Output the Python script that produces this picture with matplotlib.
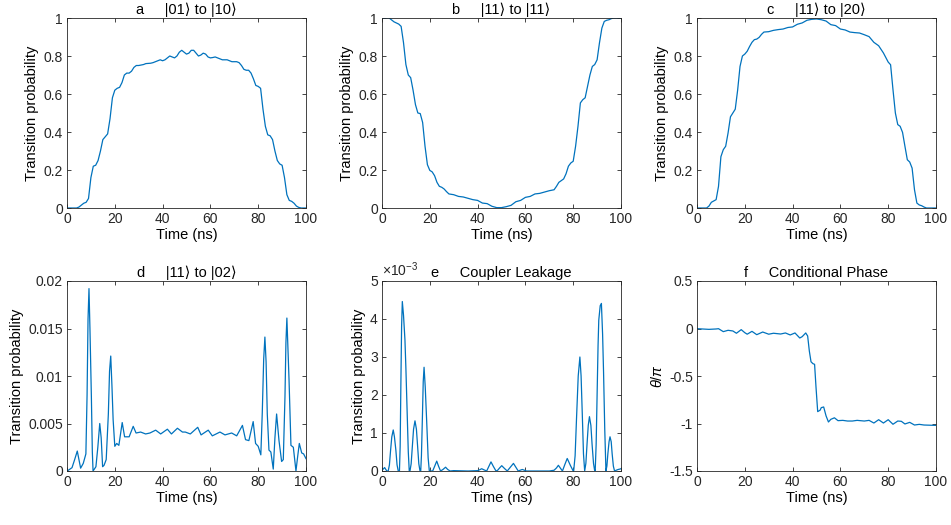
import matplotlib

matplotlib.use("Agg")
import matplotlib.pyplot as plt
from matplotlib.ticker import FuncFormatter

plt.rcParams["font.family"] = ["Liberation Sans", "DejaVu Sans"]
plt.rcParams["axes.unicode_minus"] = False
plt.rcParams["mathtext.fontset"] = "custom"
plt.rcParams["mathtext.it"] = "Liberation Sans:italic"
plt.rcParams["mathtext.rm"] = "Liberation Sans"

# ---- a |01> to |10> ----
t_a = [0, 4, 5, 6, 7, 8, 9, 10, 11, 12, 13, 14, 15, 16, 17, 18, 19, 20, 21, 22, 23, 24, 25, 26, 27, 28, 29, 30,
       32, 33, 35, 36, 38, 39, 40, 41, 42, 43, 44, 45, 46, 47, 48, 49, 50, 51, 52, 53, 54, 55, 56, 57, 58, 59, 60,
       61, 62, 63, 64, 65, 67, 68, 69, 70, 71, 72, 73, 74, 75, 76, 77, 78, 79, 80, 81, 82, 83, 84, 85, 86, 87, 88,
       89, 90, 91, 92, 93, 94, 95, 96, 97, 98, 100]
p_a = [0, 0, 0.005, 0.015, 0.025, 0.03, 0.05, 0.16, 0.22, 0.225, 0.25, 0.3, 0.36, 0.375, 0.39, 0.47, 0.58, 0.62,
       0.63, 0.635, 0.66, 0.7, 0.71, 0.71, 0.72, 0.74, 0.75, 0.75, 0.755, 0.76, 0.762, 0.765, 0.775, 0.78, 0.775,
       0.78, 0.79, 0.8, 0.795, 0.79, 0.8, 0.82, 0.83, 0.82, 0.81, 0.815, 0.83, 0.83, 0.815, 0.8, 0.805, 0.815, 0.81,
       0.795, 0.79, 0.792, 0.795, 0.79, 0.785, 0.78, 0.78, 0.775, 0.77, 0.77, 0.77, 0.765, 0.75, 0.73, 0.725, 0.725,
       0.71, 0.68, 0.645, 0.64, 0.63, 0.52, 0.43, 0.385, 0.38, 0.36, 0.3, 0.25, 0.232, 0.225, 0.16, 0.07, 0.04,
       0.035, 0.025, 0.01, 0.003, 0, 0]

# ---- b |11> to |11> ----
t_b = [0, 3, 5, 7, 8, 9, 10, 11, 12, 13, 14, 15, 16, 17, 18, 19, 20, 21, 22, 23, 24, 25, 26, 27, 28, 30, 32, 34,
       36, 38, 40, 42, 44, 46, 48, 50, 52, 54, 56, 58, 60, 62, 64, 66, 68, 70, 72, 73, 74, 75, 76, 77, 78, 79, 80,
       81, 82, 83, 84, 85, 86, 87, 88, 89, 90, 91, 92, 93, 94, 95, 96, 97, 100]
p_b = [1.0, 1.0, 0.98, 0.968, 0.956, 0.87, 0.755, 0.70, 0.686, 0.62, 0.544, 0.50, 0.497, 0.45, 0.325, 0.228,
       0.198, 0.19, 0.17, 0.135, 0.114, 0.109, 0.10, 0.086, 0.074, 0.07, 0.061, 0.058, 0.051, 0.044, 0.04, 0.026,
       0.023, 0.009, 0.002, 0.002, 0.007, 0.014, 0.033, 0.04, 0.056, 0.061, 0.074, 0.077, 0.084, 0.091, 0.096,
       0.114, 0.135, 0.144, 0.153, 0.18, 0.22, 0.237, 0.246, 0.325, 0.43, 0.553, 0.57, 0.58, 0.64, 0.70, 0.745,
       0.755, 0.78, 0.87, 0.947, 0.982, 0.988, 0.991, 0.997, 1.0, 1.0]

# ---- c |11> to |20> ----
t_c = [0, 4, 5, 6, 7, 8, 9, 10, 11, 12, 13, 14, 15, 16, 17, 18, 19, 20, 21, 22, 23, 24, 25, 26, 27, 28, 30, 32,
       34, 36, 38, 40, 42, 44, 46, 48, 50, 52, 54, 56, 58, 60, 62, 64, 66, 68, 70, 72, 74, 76, 78, 80, 81, 82, 83,
       84, 85, 86, 87, 88, 89, 90, 91, 92, 93, 94, 95, 96, 100]
p_c = [0, 0, 0.01, 0.03, 0.037, 0.044, 0.114, 0.27, 0.307, 0.325, 0.395, 0.48, 0.50, 0.52, 0.62, 0.745, 0.80,
       0.81, 0.825, 0.85, 0.872, 0.886, 0.889, 0.898, 0.914, 0.926, 0.928, 0.935, 0.939, 0.942, 0.95, 0.953, 0.967,
       0.974, 0.988, 0.993, 0.995, 0.991, 0.984, 0.965, 0.96, 0.942, 0.937, 0.926, 0.923, 0.921, 0.912, 0.902,
       0.872, 0.854, 0.816, 0.768, 0.754, 0.623, 0.50, 0.439, 0.43, 0.398, 0.325, 0.254, 0.242, 0.21, 0.096, 0.026,
       0.016, 0.012, 0.005, 0, 0]

# ---- d |11> to |02> ----
t_d = [0, 0.1, 2.1, 3.2, 4.3, 5.0, 5.7, 6.8, 7.9, 8.4, 8.8, 9.2, 9.6, 10.2, 10.6, 10.9, 12.1, 12.9, 13.7, 14.3,
       14.9, 15.5, 16.4, 17.3, 17.8, 18.3, 18.8, 19.3, 20.0, 20.8, 21.7, 23.1, 24.1, 24.9, 26.0, 27.7, 28.9, 30.8,
       32.9, 34.7, 37.1, 39.2, 42.0, 43.7, 46.2, 48.3, 49.5, 51.6, 54.7, 56.1, 59.1, 60.8, 64.0, 66.1, 68.9, 71.0,
       73.4, 74.7, 76.1, 77.9, 78.9, 80.0, 81.1, 81.7, 82.3, 82.8, 83.3, 83.8, 84.5, 85.3, 86.3, 87.0, 87.7, 88.7,
       89.8, 90.5, 91.2, 91.6, 92.0, 92.5, 92.9, 93.7, 94.7, 95.8, 96.5, 97.2, 98.2, 99.0, 100]
p_d = [0, 0, 0.00035, 0.0012, 0.0021, 0.0012, 0.0003, 0.0008, 0.0018, 0.008, 0.016, 0.0192, 0.015, 0.0078, 0.002,
       0, 0.00045, 0.0025, 0.005, 0.0035, 0.00045, 0.0006, 0.0012, 0.006, 0.0105, 0.0121, 0.009, 0.0054, 0.0026,
       0.0029, 0.0027, 0.0051, 0.0036, 0.0036, 0.0036, 0.0047, 0.004, 0.0041, 0.0039, 0.004, 0.0043, 0.0039,
       0.0044, 0.0039, 0.0045, 0.0041, 0.0041, 0.0039, 0.0046, 0.0038, 0.0043, 0.0037, 0.0041, 0.0038, 0.004,
       0.0037, 0.0048, 0.0033, 0.0032, 0.0052, 0.0029, 0.0026, 0.0017, 0.0061, 0.0118, 0.0141, 0.0115, 0.006,
       0.0022, 0.002, 0.0002, 0.0035, 0.006, 0.0032, 0.001, 0.0012, 0.0078, 0.0135, 0.0161, 0.0125, 0.0096,
       0.0027, 0.0025, 0, 0.0015, 0.0029, 0.0019, 0.0018, 0.0013]

# ---- e coupler leakage (x 1e-3) ----
t_e = [0, 1.1, 2.0, 2.6, 3.1, 3.6, 4.1, 4.7, 5.2, 5.8, 6.3, 6.8, 7.3, 7.6, 7.9, 8.2, 8.5, 9.0, 9.6, 10.0, 10.5, 11.0,
       11.4, 11.7, 12.2, 12.7, 13.2, 13.8, 14.4, 14.9, 15.4, 15.9, 16.2, 16.5, 16.9, 17.25, 17.6, 18.1, 18.7, 19.3,
       19.8, 21.2, 22.0, 22.9, 23.7, 24.5, 25.5, 26.6, 27.5, 28.5, 30, 36, 40, 40.8, 41.7, 42.7, 43.8, 44.7, 45.6,
       46.6, 47.7, 48.4, 49.2, 50.1, 51.2, 52.4, 53.7, 55, 56, 57, 57.8, 58.7, 59.6, 60.5, 70, 72, 73, 73.8, 74.7,
       75.5, 76.5, 77.5, 78.8, 80.0, 80.2, 80.8, 81.4, 82.1, 82.8, 83.3, 83.8, 84.3, 84.8, 85.3, 85.8, 86.3, 86.8,
       87.4, 87.9, 88.5, 89.0, 89.2, 89.6, 90.0, 90.4, 90.7, 91.3, 91.8, 92.3, 92.7, 93.2, 93.7, 94.1, 94.5, 95.0,
       95.4, 95.9, 96.3, 96.8, 97.3, 98.0, 98.8, 99.5, 100]
p_e = [0.02, 0.09, 0, 0, 0.16, 0.55, 0.9, 1.08, 0.9, 0.55, 0.16, 0, 0, 0.65, 2.3, 3.8, 4.46, 4.1, 3.45, 2.7, 1.6,
       0.5, 0, 0, 0.19, 0.65, 1.1, 1.32, 1.1, 0.65, 0.19, 0, 0, 0.4, 1.4, 2.35, 2.73, 2.2, 1.3, 0.35, 0, 0, 0.12,
       0.26, 0.12, 0, 0.04, 0.1, 0.04, 0, 0.01, 0, 0.01, 0.03, 0.06, 0.03, 0, 0.12, 0.24, 0.12, 0, 0.02, 0.08, 0.14,
       0.07, 0, 0.1, 0.2, 0.1, 0, 0.02, 0.04, 0.02, 0, 0, 0.02, 0.08, 0.15, 0.07, 0, 0.17, 0.33, 0.15, 0, 0, 0.4, 1.4,
       2.5, 3.0, 2.5, 1.5, 0.45, 0, 0.2, 0.72, 1.2, 1.43, 1.2, 0.7, 0.2, 0, 0, 0.7, 2.0, 3.3, 3.97, 4.35, 4.41, 3.6,
       2.6, 1.1, 0, 0.13, 0.45, 0.77, 0.9, 0.77, 0.45, 0.13, 0, 0.02, 0.04, 0.05, 0.06]

# ---- f conditional phase (theta/pi) ----
t_f = [0, 5, 8, 9, 11, 13, 15, 16.5, 18.5, 20, 21, 23, 25, 27.5, 30, 32, 35, 37, 39, 41, 43, 44, 45.5, 46.3, 47,
       47.7, 48.5, 49.2, 49.8, 50.5, 51.5, 52, 53, 54, 55, 56, 57.5, 59, 61, 63, 65, 67, 70, 72, 74, 76, 78, 80,
       82, 84, 85.5, 87, 89, 91, 93, 95, 100]
p_f = [-0.002, -0.009, -0.005, -0.002, -0.033, -0.019, -0.026, -0.05, -0.012, -0.044, -0.06, -0.03, -0.065,
       -0.037, -0.06, -0.05, -0.058, -0.047, -0.068, -0.047, -0.10, -0.086, -0.047, -0.079, -0.237, -0.35, -0.37,
       -0.377, -0.62, -0.875, -0.86, -0.833, -0.826, -0.92, -0.984, -0.956, -0.94, -0.97, -0.967, -0.974, -0.974,
       -0.967, -0.974, -0.967, -0.995, -0.96, -0.995, -0.96, -1.008, -0.974, -0.977, -1.005, -0.988, -1.016,
       -1.009, -1.016, -1.02]

titles = ["a     |01\u27e9 to |10\u27e9", "b     |11\u27e9 to |11\u27e9", "c     |11\u27e9 to |20\u27e9",
          "d     |11\u27e9 to |02\u27e9", "e     Coupler Leakage", "f     Conditional Phase"]

BLUE = "#0072BD"
INK = "#262626"
W, H = 951, 525
lefts = [67, 382, 697]
tops = [18, 281]
aw, ah = 239, 190

fig = plt.figure(figsize=(W / 100, H / 100), dpi=100)
axes = []
for r in range(2):
    for c in range(3):
        ax = fig.add_axes([lefts[c] / W, 1 - (tops[r] + ah) / H, aw / W, ah / H])
        axes.append(ax)

series = [(t_a, p_a), (t_b, p_b), (t_c, p_c), (t_d, p_d), (t_e, p_e), (t_f, p_f)]
fmt = FuncFormatter(lambda v, _: f"{v:g}")
for i, (ax, (t, p)) in enumerate(zip(axes, series)):
    ax.plot(t, p, color=BLUE, lw=0.9)
    ax.set_xlim(0, 100)
    ax.set_xticks([0, 20, 40, 60, 80, 100])
    ax.set_title(titles[i], fontsize=10.5, color="black", pad=3)
    ax.set_xlabel("Time (ns)", fontsize=10.5, labelpad=1)
    ax.tick_params(direction="in", top=True, right=True, labelsize=10, colors=INK, length=3, width=0.6, pad=3)
    for s in ax.spines.values():
        s.set_color(INK)
        s.set_linewidth(0.6)
    ax.yaxis.set_major_formatter(fmt)
    if i < 3:
        ax.set_ylim(0, 1)
        ax.set_yticks([0, 0.2, 0.4, 0.6, 0.8, 1])
    if i < 5:
        ax.set_ylabel("Transition probability", fontsize=10.5, labelpad=3)

axes[3].set_ylim(0, 0.02)
axes[3].set_yticks([0, 0.005, 0.01, 0.015, 0.02])
axes[4].set_ylim(0, 5)
axes[4].set_yticks([0, 1, 2, 3, 4, 5])
axes[4].text(0, 1.01, r"$\times$10$^{-3}$", transform=axes[4].transAxes, fontsize=10, color=INK,
             ha="left", va="bottom")
axes[5].set_ylim(-1.5, 0.5)
axes[5].set_yticks([-1.5, -1, -0.5, 0, 0.5])
axes[5].set_ylabel(r"$\theta/\pi$", fontsize=10.5, labelpad=3)

fig.savefig("out.png", dpi=100, facecolor="white")
